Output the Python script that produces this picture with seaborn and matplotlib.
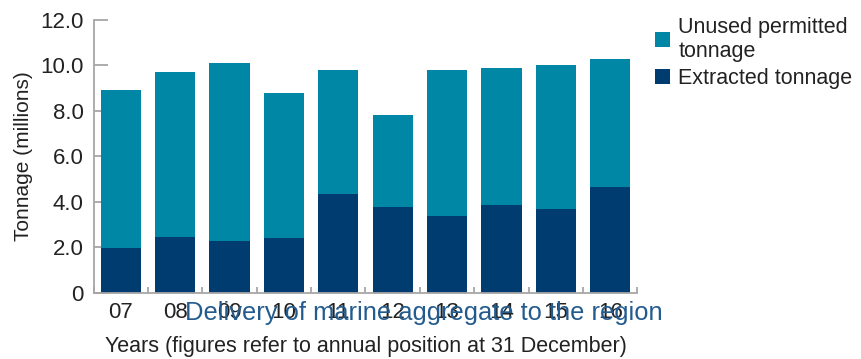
import matplotlib
matplotlib.use("Agg")
import matplotlib.pyplot as plt
import seaborn as sns
import pandas as pd
import numpy as np
from matplotlib.patches import Patch

# ---- data ----
years = ["07", "08", "09", "10", "11", "12", "13", "14", "15", "16"]
extracted = [1.97, 2.46, 2.28, 2.41, 4.35, 3.78, 3.38, 3.87, 3.69, 4.66]
unused = [6.93, 7.27, 7.83, 6.39, 5.45, 4.04, 6.42, 6.02, 6.31, 5.63]
yticks = [0, 2, 4, 6, 8, 10, 12]
ytick_labels = ["0", "2.0", "4.0", "6.0", "8.0", "10.0", "12.0"]

c_unused = "#0087A6"
c_extr = "#003C70"
c_title = "#235B8E"
c_grey = "#A6A6A6"
c_text = "#222222"

sns.set_theme(style="white")
plt.rcParams["font.family"] = ["Liberation Sans", "DejaVu Sans"]

df = pd.DataFrame({"year": years, "extracted": extracted, "unused": unused})
df["total"] = df["extracted"] + df["unused"]

fig = plt.figure(figsize=(8.61, 3.59), dpi=100)
ax = fig.add_axes([0.1086, 0.1847, 0.6318, 0.7596])

sns.barplot(data=df, x="year", y="total", color=c_unused, saturation=1,
            width=0.736, ax=ax, linewidth=0)
sns.barplot(data=df, x="year", y="extracted", color=c_extr, saturation=1,
            width=0.736, ax=ax, linewidth=0)

ax.set_xlim(-0.5, len(years) - 0.5)
ax.set_ylim(0, 12)
ax.set_yticks(yticks)
ax.set_yticklabels(ytick_labels)

for s in ["top", "right"]:
    ax.spines[s].set_visible(False)
for s in ["left", "bottom"]:
    ax.spines[s].set_color(c_grey)
    ax.spines[s].set_linewidth(1.3)

ax.tick_params(axis="y", direction="in", length=10, width=1.3, color=c_grey,
               labelsize=16, labelcolor=c_text, pad=7, left=True)
ax.tick_params(axis="x", which="major", length=0, labelsize=16,
               labelcolor=c_text, pad=7)
ax.set_xticks(np.arange(-0.5, len(years), 1.0), minor=True)
ax.tick_params(axis="x", which="minor", direction="in", length=4, width=1.3,
               color=c_grey, bottom=True)

ax.set_xlabel("Years (figures refer to annual position at 31 December)",
              fontsize=15.5, color=c_text, labelpad=9)
ax.set_ylabel("Tonnage (millions)", fontsize=15, color=c_text, labelpad=5)

fig.text(0.492, 0.128, "Delivery of marine aggregate to the region",
         fontsize=18.4, color=c_title, ha="center", va="center")

handles = [Patch(facecolor=c_unused, edgecolor="none", label="Unused permitted\ntonnage"),
           Patch(facecolor=c_extr, edgecolor="none", label="Extracted tonnage")]
fig.legend(handles=handles, loc="upper left", bbox_to_anchor=(0.7505, 0.978),
           frameon=False, fontsize=15.5, handlelength=0.7, handleheight=0.7,
           handletextpad=0.4, labelspacing=0.3, borderaxespad=0,
           labelcolor=c_text)

fig.savefig("out.png", dpi=100)
